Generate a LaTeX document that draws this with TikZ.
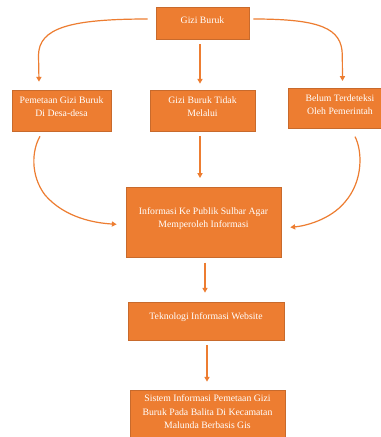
\documentclass[tikz,border=0pt]{standalone}
\usepackage{fontspec}
\setmainfont{Liberation Serif}
\usetikzlibrary{arrows.meta,calc}
\definecolor{orfill}{HTML}{ED7D31}
\definecolor{ordraw}{HTML}{C86A2C}
\begin{document}
\begin{tikzpicture}[x=0.75pt,y=-0.75pt,
  box/.style={draw=ordraw,fill=orfill,line width=0.5pt,inner sep=0pt},
  txt/.style={text=white,font=\fontsize{7.3}{10}\selectfont,align=center,inner sep=0pt},
  conn/.style={draw=orfill,line width=0.9pt,-{Triangle[length=3.6pt,width=3.8pt]}}]
\clip (0,0) rectangle (381,437);
\useasboundingbox (0,0) rectangle (381,437);
\fill[white] (0,0) rectangle (381,437);
% boxes
\node[box,minimum width=93*0.75pt,minimum height=32*0.75pt,
  label={[txt,yshift=2.5pt]center:Gizi Buruk}] (g) at (202.5,23) {};
\node[box,minimum width=99*0.75pt,minimum height=41*0.75pt,
  label={[txt,yshift=3pt]center:Pemetaan Gizi Buruk\\Di Desa-desa}] (p) at (61.5,110.5) {};
\node[box,minimum width=105*0.75pt,minimum height=41*0.75pt,
  label={[txt,yshift=3pt]center:Gizi Buruk Tidak\\Melalui}] (t) at (202.5,110.5) {};
\node[box,minimum width=104*0.75pt,minimum height=40*0.75pt,
  label={[txt,yshift=2.6pt]center:Belum Terdeteksi\\Oleh Pemerintah}] (b) at (340,108.3) {};
\node[box,minimum width=155*0.75pt,minimum height=70*0.75pt,
  label={[txt,yshift=3pt]center:Informasi Ke Publik Sulbar Agar\\Memperoleh Informasi}] (i) at (203.5,222.3) {};
\node[box,minimum width=156*0.75pt,minimum height=38*0.75pt,
  label={[txt,yshift=3.2pt]center:Teknologi Informasi Website}] (w) at (206,321) {};
\node[box,minimum width=155*0.75pt,minimum height=56*0.75pt,
  label={[txt,yshift=4.7pt]center:Sistem Informasi Pemetaan Gizi\\Buruk Pada Balita Di Kecamatan\\Malunda Berbasis Gis}] (s) at (207.5,418) {};
% connector end points
\coordinate (g1) at ($(g.west)+(-8,-4)$);
\coordinate (p1) at ($(p.north)+(-22.5,-8)$);
\coordinate (g2) at ($(g.south)+(-2.5,5)$);
\coordinate (t1) at ($(t.north)+(-2.5,-6)$);
\coordinate (g3) at ($(g.east)+(4,-4)$);
\coordinate (b1) at ($(b.north)+(2.5,-7)$);
\coordinate (p2) at ($(p.south)+(-21.5,5)$);
\coordinate (i1) at ($(i.west)+(-9,2)$);
\coordinate (t2) at ($(t.south)+(-2.5,5)$);
\coordinate (i2) at ($(i.north)+(-3.5,-9)$);
\coordinate (b2) at ($(b.south)+(15,8)$);
\coordinate (i3) at ($(i.east)+(9,5)$);
\coordinate (i4) at ($(i.south)+(1.5,5)$);
\coordinate (w1) at ($(w.north)+(-1,-9)$);
\coordinate (w2) at ($(w.south)+(1,5)$);
\coordinate (s1) at ($(s.north)+(-0.5,-8)$);
% connectors
\draw[conn] (g1) .. controls (70,19) and (39,28) .. (38.5,55) -- (p1);
\draw[conn] (g2) -- (t1);
\draw[conn] (g3) .. controls (320,19) and (342,28) .. (342.3,55) -- (b1);
\draw[conn] (p2) .. controls (32,150) and (30,175) .. (45,195) .. controls (65,218) and (95,223) .. (i1);
\draw[conn] (t2) -- (i2);
\draw[conn] (b2) .. controls (362,150) and (364,180) .. (345,202) .. controls (330,220) and (305,226) .. (i3);
\draw[conn] (i4) -- (w1);
\draw[conn] (w2) -- (s1);
\end{tikzpicture}
\end{document}
